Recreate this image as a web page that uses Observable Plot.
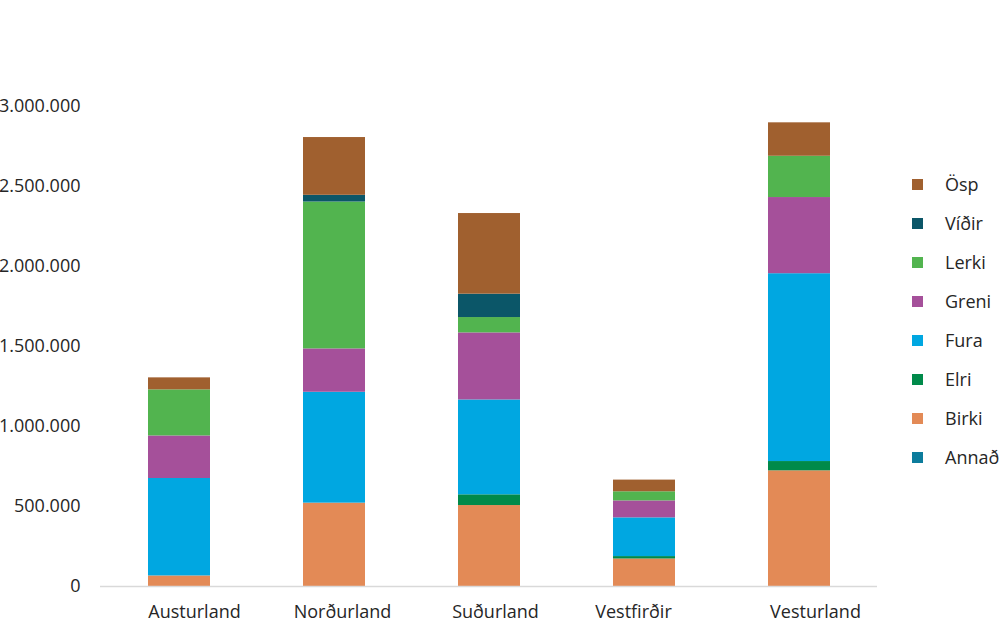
<!DOCTYPE html>
<html>
<head>
<meta charset="utf-8">
<script src="https://cdn.jsdelivr.net/npm/d3@7"></script>
<script src="https://cdn.jsdelivr.net/npm/@observablehq/plot@0.6"></script>
<style>
  body { margin: 0; background: #fff; font-family: "Open Sans", "Noto Sans", sans-serif; }
  #wrap { position: relative; width: 1000px; height: 624px; }
  #legend { position: absolute; left: 912px; top: 0; }
  .item { position: absolute; left: 0; white-space: nowrap; font-size: 18px; color: #262626; }
  .sw { position: absolute; left: 0; width: 11px; height: 11px; }
  .lab { position: absolute; left: 33px; line-height: 20px; }
</style>
</head>
<body>
<div id="wrap"></div>
<script>
const regions = ["Austurland", "Norðurland", "Suðurland", "Vestfirðir", "Vesturland"];
// stack order bottom to top
const species = ["Annað", "Birki", "Elri", "Fura", "Greni", "Lerki", "Víðir", "Ösp"];
const colors  = ["#0C7C9C", "#E38A56", "#008A4A", "#00A7E1", "#A5509A", "#52B44F", "#0B5668", "#A0602F"];

const annad = [0, 0, 0, 0, 0];
const birki = [66000, 521000, 506000, 172000, 723000];
const elri  = [0, 0, 67000, 15000, 58000];
const fura  = [609000, 693000, 593000, 242000, 1174000];
const greni = [266000, 271000, 419000, 106000, 476000];
const lerki = [288000, 918000, 96000, 57000, 258000];
const vidir = [0, 42000, 146000, 0, 0];
const osp   = [75000, 361000, 504000, 73000, 209000];

const yTicks = [0, 500000, 1000000, 1500000, 2000000, 2500000, 3000000];

// layout: horizontal nudge of each category label, as in the reference
const labelShift = [15, 8, 6, -11, 16];

const series = [annad, birki, elri, fura, greni, lerki, vidir, osp];
const data = [];
species.forEach((s, si) => regions.forEach((r, ri) => data.push({region: r, species: s, value: series[si][ri]})));

const fmt = d3.formatLocale({decimal: ",", thousands: ".", grouping: [3], currency: ["", ""]}).format(",d");

const chart = Plot.plot({
  width: 1000,
  height: 624,
  marginLeft: 100,
  marginRight: 123,
  marginTop: 106,
  marginBottom: 38,
  style: {fontFamily: '"Open Sans", "Noto Sans", sans-serif', fontSize: "18px", color: "#262626", background: "#fff"},
  x: {domain: regions, paddingInner: 0.6, paddingOuter: 0.3, label: null},
  y: {domain: [0, 3000000], label: null},
  color: {domain: species, range: colors},
  marks: [
    Plot.axisY({ticks: yTicks, tickFormat: fmt, tickSize: 0, tickPadding: 20, label: null, fontSize: "18px"}),
    ...regions.map((r, i) => Plot.axisX([r], {tickSize: 0, tickPadding: 19, dx: labelShift[i], label: null, fontSize: "18px"})),
    Plot.barY(data, Plot.stackY({order: species, x: "region", y: "value", fill: "species"})),
    Plot.ruleY([0], {stroke: "#d9d9d9", strokeWidth: 1.5})
  ]
});

const wrap = document.getElementById("wrap");
wrap.appendChild(chart);

const legend = document.createElement("div");
legend.id = "legend";
const order = species.slice().reverse();
order.forEach((s, i) => {
  const item = document.createElement("div");
  item.className = "item";
  const cy = 184 + i * 39;
  item.style.top = (cy - 10) + "px";
  const sw = document.createElement("div");
  sw.className = "sw";
  sw.style.top = "5px";
  sw.style.background = colors[species.indexOf(s)];
  const lab = document.createElement("div");
  lab.className = "lab";
  lab.textContent = s;
  item.appendChild(sw);
  item.appendChild(lab);
  legend.appendChild(item);
});
wrap.appendChild(legend);
</script>
</body>
</html>
